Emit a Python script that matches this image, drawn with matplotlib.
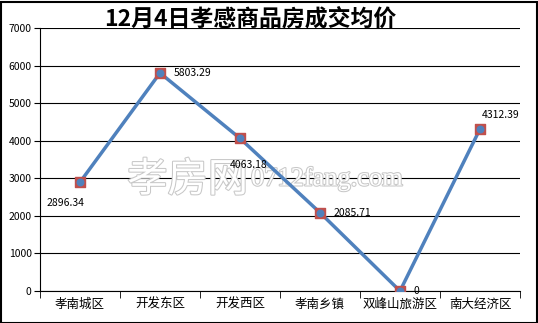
import matplotlib
matplotlib.use("Agg")
import matplotlib.pyplot as plt
import matplotlib.patheffects as pe
from matplotlib.patches import Rectangle

plt.rcParams['font.family'] = ['Noto Sans CJK SC', 'DejaVu Sans']

# 数据
areas = ["孝南城区", "开发东区", "开发西区", "孝南乡镇", "双峰山旅游区", "南大经济区"]
prices = [2896.34, 5803.29, 4063.18, 2085.71, 0, 4312.39]
label_txt = ["2896.34", "5803.29", "4063.18", "2085.71", "0", "4312.39"]
y_ticks = [0, 1000, 2000, 3000, 4000, 5000, 6000, 7000]

W, H = 538, 323
fig = plt.figure(figsize=(W / 100, H / 100), dpi=100)
ax = fig.add_axes([40 / W, (H - 291) / H, 480 / W, 263 / H])

x = list(range(len(areas)))
ax.plot(x, prices, color="#4F81BD", lw=2.5, zorder=3)
ax.scatter(x, prices, marker="s", s=45, color="#C0504D", edgecolor="#C0504D", zorder=4)
ax.scatter(x, prices, marker="o", s=22, color="#4F81BD", zorder=5)

# 数据标签 (偏移按像素)
offsets = [(-33, -21), (14, 0), (-10, -27), (14, 0), (13, 0), (2, 14)]
for xi, yi, t, (dx, dy) in zip(x, prices, label_txt, offsets):
    ax.annotate(t, (xi, yi), xytext=(dx, dy), textcoords="offset pixels",
                fontsize=7.5, va="center", ha="left", zorder=6, annotation_clip=False)

ax.set_xlim(-0.5, len(areas) - 0.5)
ax.set_ylim(0, 7000)
ax.set_yticks(y_ticks)
ax.set_yticklabels([str(v) for v in y_ticks], fontsize=7.5)
ax.set_xticks(x)
ax.set_xticklabels(areas, fontsize=9)
ax.tick_params(axis="x", length=0, pad=5)
ax.set_xticks([i - 0.5 for i in range(len(areas) + 1)], minor=True)
ax.tick_params(axis="x", which="minor", length=5, color="black", direction="out")
ax.tick_params(axis="y", length=4, color="black", direction="out", pad=2)

ax.grid(axis="y", color="black", lw=0.8)
ax.set_axisbelow(True)
for s in ["top", "right"]:
    ax.spines[s].set_visible(False)
ax.spines["left"].set_color("black")
ax.spines["bottom"].set_color("black")

# 水印 (在网格线之上, 折线之下)
stroke = [pe.withStroke(linewidth=1.5, foreground="#c8c8c8")]
ax.text(248 / W, 1 - 180 / H, "孝房网", transform=fig.transFigure, fontsize=29,
        color="white", ha="right", va="center", path_effects=stroke, zorder=2, clip_on=False)
ax.text(251 / W, 1 - 179 / H, "0712fang.com", transform=fig.transFigure, fontsize=19,
        color="white", ha="left", va="center", family="Liberation Serif",
        path_effects=stroke, zorder=2, clip_on=False)

# 标题
fig.text(250 / W, 1 - 19 / H, "12月4日孝感商品房成交均价", fontsize=16.5, fontweight="bold",
         ha="center", va="center")

# 外边框
fig.add_artist(Rectangle((0.5 / W, 0.5 / H), (W - 2) / W, (H - 2) / H, transform=fig.transFigure,
                         fill=False, edgecolor="black", lw=1.5))

fig.savefig("out.png", dpi=100)
